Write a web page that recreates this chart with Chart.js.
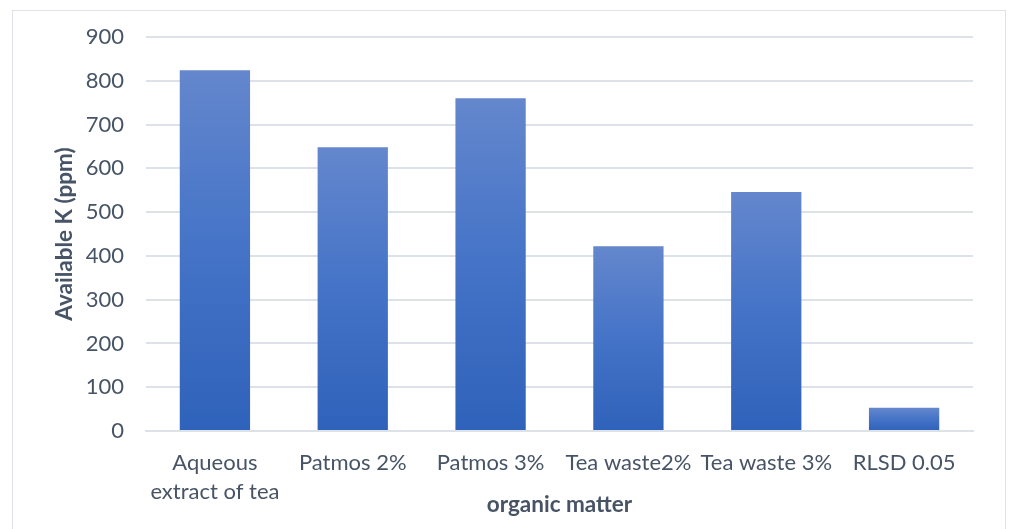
<!DOCTYPE html>
<html>
<head>
<meta charset="utf-8">
<script src="https://cdn.jsdelivr.net/npm/chart.js@4/dist/chart.umd.min.js"></script>
<style>
  html, body { margin: 0; padding: 0; background: #fff; overflow: hidden; }
  #frame {
    position: absolute; left: 12px; top: 10px; width: 994px; height: 540px;
    border: 1px solid #dfe3e8; box-sizing: border-box;
  }
  #wrap { position: absolute; left: 0; top: 0; width: 1016px; height: 529px; }
</style>
</head>
<body>
<div id="frame"></div>
<div id="wrap"><canvas id="barChart" width="1016" height="529"></canvas></div>
<script>
// Available potassium by organic matter treatment
const treatments = [
  ["Aqueous", "extract of tea"],
  "Patmos 2%",
  "Patmos 3%",
  "Tea waste2%",
  "Tea waste 3%",
  "RLSD 0.05"
];
const availableK = [824, 648, 760, 422, 546, 53];
const yTicks = [0, 100, 200, 300, 400, 500, 600, 700, 800, 900];

const textColor = "#475466";
const gridColor = "#dde2e8";

// vertical gradient per bar, light at the top and darker at the base
function barGradient(context) {
  const chart = context.chart;
  if (!chart.chartArea || context.parsed === undefined) return "#4472c4";
  const yScale = chart.scales.y;
  const top = yScale.getPixelForValue(context.parsed.y);
  const base = yScale.getPixelForValue(0);
  if (!isFinite(top) || top === base) return "#4472c4";
  const g = chart.ctx.createLinearGradient(0, top, 0, base);
  g.addColorStop(0, "#6487cd");
  g.addColorStop(0.5, "#4473c7");
  g.addColorStop(1, "#2f62ba");
  return g;
}

const ctx = document.getElementById("barChart").getContext("2d");
new Chart(ctx, {
  type: "bar",
  data: {
    labels: treatments,
    datasets: [
      {
        label: "Available K (ppm)",
        data: availableK,
        backgroundColor: barGradient,
        barPercentage: 0.51,
        categoryPercentage: 1.0,
      },
    ],
  },
  options: {
    responsive: false,
    animation: false,
    layout: {
      padding: { left: 0, right: 43, top: 37, bottom: 0 },
    },
    plugins: {
      legend: { display: false },
      tooltip: { enabled: false },
    },
    scales: {
      x: {
        grid: { display: false, drawTicks: false },
        border: { display: true, color: gridColor, width: 2 },
        ticks: {
          color: textColor,
          font: { family: "Lato", size: 22, lineHeight: 1.32 },
          padding: 17,
          maxRotation: 0,
          autoSkip: false,
        },
        title: {
          display: true,
          text: "organic matter",
          color: textColor,
          font: { family: "Lato", size: 22.5, weight: "bold" },
          padding: { top: 0, bottom: 11 },
        },
        afterFit: (scale) => {
          scale.height = 98;
        },
      },
      y: {
        min: 0,
        max: 900,
        afterBuildTicks: (scale) => {
          scale.ticks = yTicks.map((v) => ({ value: v }));
        },
        grid: { color: gridColor, lineWidth: 2, drawTicks: false },
        border: { display: false },
        ticks: {
          color: textColor,
          font: { family: "Lato", size: 22 },
          padding: 22,
        },
        title: {
          display: true,
          text: "Available K (ppm)",
          color: textColor,
          font: { family: "Lato", size: 22.5, weight: "bold" },
          padding: { top: 51, bottom: 0 },
        },
        afterFit: (scale) => {
          scale.width = 146;
        },
      },
    },
  },
});
</script>
</body>
</html>
